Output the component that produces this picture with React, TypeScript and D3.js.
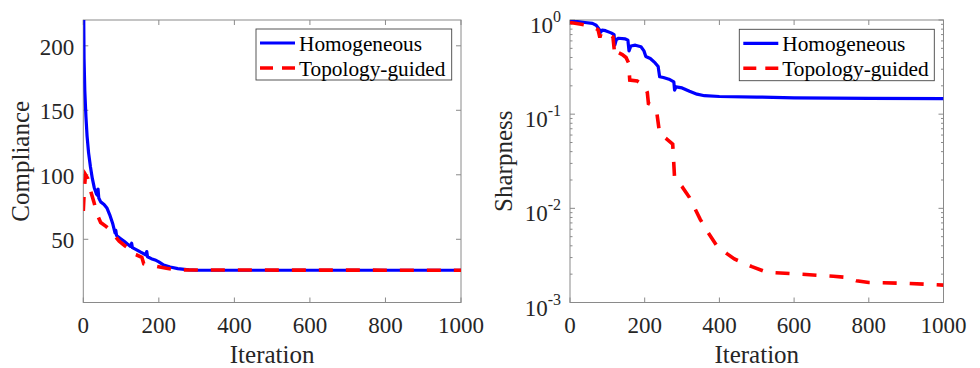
import React, { useEffect, useRef } from 'react'
import * as d3 from 'd3'

const W = 980
const H = 368
const FONT = "'Liberation Serif', 'Times New Roman', serif"

// shared x axis
const iterTicks = [0, 200, 400, 600, 800, 1000]

// left panel: compliance
const compTicks = [50, 100, 150, 200]
const compIterH = [0, 2, 4, 7, 10, 14, 19, 24, 29, 35, 38, 39, 41, 46, 55, 63, 70, 78, 84, 86, 88, 98, 108, 116, 125, 128, 130, 140, 152, 165, 168, 170, 180, 190, 200, 213, 230, 250, 280, 300, 1000]
const compValH = [260, 190, 165, 145, 130, 117, 106, 97, 90, 85, 84, 89, 82, 79, 77, 74, 69, 62, 55, 57, 53, 50.7, 48.5, 46.5, 44.5, 47, 43.5, 42, 40, 38, 40.5, 36.5, 35, 34, 32.5, 30, 28.5, 27.3, 26.3, 26, 26]
const compIterT = [0, 3, 6, 12, 20, 28, 37, 46, 60, 72, 85, 95, 110, 125, 130, 140, 155, 160, 175, 195, 220, 245, 280, 1000]
const compValT = [72, 90, 100, 97, 87, 79, 69, 63, 60, 57, 52, 48.5, 45, 42, 39, 38, 36, 31, 30, 29, 27.5, 26.5, 26.2, 26]

// right panel: sharpness (log)
const sharpTicks = [1e-3, 1e-2, 1e-1, 1]
const sharpIterH = [0, 20, 40, 60, 70, 78, 82, 86, 95, 110, 118, 120, 124, 130, 148, 155, 158, 163, 175, 190, 198, 203, 215, 228, 236, 240, 250, 265, 278, 280, 284, 300, 320, 340, 360, 400, 500, 600, 800, 1000]
const sharpValH = [0.97, 0.96, 0.94, 0.92, 0.88, 0.8, 0.74, 0.78, 0.77, 0.73, 0.7, 0.54, 0.62, 0.64, 0.63, 0.61, 0.47, 0.53, 0.54, 0.52, 0.47, 0.41, 0.39, 0.35, 0.32, 0.25, 0.245, 0.235, 0.22, 0.18, 0.195, 0.19, 0.175, 0.163, 0.157, 0.154, 0.152, 0.149, 0.147, 0.146]
const sharpIterT = [0, 30, 60, 75, 80, 84, 100, 115, 120, 124, 140, 150, 157, 160, 180, 200, 207, 210, 220, 233, 240, 260, 275, 280, 300, 320, 349, 370, 393, 420, 440, 487, 527, 616, 705, 740, 767, 800, 900, 1000]
const sharpValT = [0.94, 0.9, 0.85, 0.79, 0.65, 0.74, 0.72, 0.66, 0.42, 0.46, 0.43, 0.4, 0.35, 0.23, 0.225, 0.2, 0.17, 0.13, 0.125, 0.1, 0.062, 0.054, 0.048, 0.021, 0.017, 0.013, 0.0076, 0.0055, 0.004, 0.0033, 0.0029, 0.0024, 0.0021, 0.002, 0.0019, 0.00185, 0.0017, 0.00163, 0.0016, 0.00153]

const seriesNames = ['Homogeneous', 'Topology-guided']

function drawPanel(svg, o) {
  const { left, right, top, bottom, y, yTicks, yLabel, yLabelX, log, data, legend, id } = o
  const x = d3.scaleLinear().domain([0, 1000]).range([left, right])
  const g = svg.append('g')

  g.append('clipPath').attr('id', id).append('rect')
    .attr('x', left).attr('y', top).attr('width', right - left).attr('height', bottom - top)

  // box
  g.append('rect').attr('x', left).attr('y', top).attr('width', right - left).attr('height', bottom - top)
    .attr('fill', 'none').attr('stroke', '#8a8a8a').attr('stroke-width', 1)

  const tk = 5
  // x ticks top & bottom
  iterTicks.forEach(t => {
    g.append('line').attr('x1', x(t)).attr('x2', x(t)).attr('y1', bottom).attr('y2', bottom - tk).attr('stroke', '#8a8a8a')
    g.append('line').attr('x1', x(t)).attr('x2', x(t)).attr('y1', top).attr('y2', top + tk).attr('stroke', '#8a8a8a')
    g.append('text').attr('x', x(t)).attr('y', bottom + 30).attr('text-anchor', 'middle')
      .attr('font-size', 23).attr('fill', '#262626').text(t)
  })

  // y ticks
  yTicks.forEach(t => {
    g.append('line').attr('x1', left).attr('x2', left + tk).attr('y1', y(t)).attr('y2', y(t)).attr('stroke', '#8a8a8a')
    g.append('line').attr('x1', right).attr('x2', right - tk).attr('y1', y(t)).attr('y2', y(t)).attr('stroke', '#8a8a8a')
    if (log) {
      const e = Math.round(Math.log10(t))
      const tx = g.append('text').attr('x', left - 9).attr('y', y(t) + 13).attr('text-anchor', 'end')
        .attr('font-size', 23).attr('fill', '#262626')
      tx.append('tspan').text('10')
      tx.append('tspan').attr('font-size', 16).attr('dy', -11).text(e)
    } else {
      g.append('text').attr('x', left - 9).attr('y', y(t) + 9).attr('text-anchor', 'end')
        .attr('font-size', 23).attr('fill', '#262626').text(t)
    }
  })

  if (log) {
    for (let d = -3; d < 0; d++) {
      for (let m = 2; m <= 9; m++) {
        const v = m * Math.pow(10, d)
        g.append('line').attr('x1', left).attr('x2', left + 2.5).attr('y1', y(v)).attr('y2', y(v)).attr('stroke', '#8a8a8a')
        g.append('line').attr('x1', right).attr('x2', right - 2.5).attr('y1', y(v)).attr('y2', y(v)).attr('stroke', '#8a8a8a')
      }
    }
  }

  // axis labels
  g.append('text').attr('x', (left + right) / 2).attr('y', 362.5).attr('text-anchor', 'middle')
    .attr('font-size', 25).attr('fill', '#262626').text('Iteration')
  g.append('text').attr('transform', `translate(${yLabelX},${(top + bottom) / 2}) rotate(-90)`)
    .attr('text-anchor', 'middle').attr('font-size', 25).attr('fill', '#262626').text(yLabel)

  // lines
  const line = d3.line().x(d => x(d[0])).y(d => y(d[1]))
  const plot = g.append('g').attr('clip-path', `url(#${id})`)
  plot.append('path').attr('d', line(d3.zip(data[0][0], data[0][1])))
    .attr('fill', 'none').attr('stroke', '#0000ff').attr('stroke-width', 3.2).attr('stroke-linejoin', 'round')
  plot.append('path').attr('d', line(d3.zip(data[1][0], data[1][1])))
    .attr('fill', 'none').attr('stroke', '#ff0000').attr('stroke-width', 3.6).attr('stroke-dasharray', '14 13')

  // legend
  const lg = g.append('g')
  lg.append('rect').attr('x', legend.x).attr('y', legend.y).attr('width', legend.w).attr('height', legend.h)
    .attr('fill', '#fff').attr('stroke', '#444').attr('stroke-width', 0.9)
  seriesNames.forEach((name, i) => {
    const cy = legend.y + 14 + i * 25
    lg.append('line').attr('x1', legend.x + 4).attr('x2', legend.x + 39).attr('y1', cy).attr('y2', cy)
      .attr('stroke', i === 0 ? '#0000ff' : '#ff0000').attr('stroke-width', i === 0 ? 3.2 : 3.6)
      .attr('stroke-dasharray', i === 0 ? null : '13 9')
    lg.append('text').attr('x', legend.x + 43).attr('y', cy + 7.5).attr('font-size', 21.3).attr('fill', '#000').text(name)
  })
}

export default function App() {
  const ref = useRef(null)

  useEffect(() => {
    const svg = d3.select(ref.current)
    svg.selectAll('*').remove()
    svg.attr('font-family', FONT)

    const top = 20
    const bottom = 302.5

    drawPanel(svg, {
      id: 'clipL', left: 83.3, right: 461, top, bottom,
      y: d3.scaleLinear().domain([1, 220]).range([bottom, top]),
      yTicks: compTicks, yLabel: 'Compliance', yLabelX: 29, log: false,
      data: [[compIterH, compValH], [compIterT, compValT]],
      legend: { x: 256, y: 29, w: 195.7, h: 51 },
    })

    drawPanel(svg, {
      id: 'clipR', left: 570, right: 943.5, top, bottom,
      y: d3.scaleLog().domain([1e-3, 1]).range([bottom, top]),
      yTicks: sharpTicks, yLabel: 'Sharpness', yLabelX: 512, log: true,
      data: [[sharpIterH, sharpValH], [sharpIterT, sharpValT]],
      legend: { x: 739.3, y: 29.3, w: 195, h: 51.4 },
    })
  }, [])

  return (
    <svg ref={ref} width={W} height={H} viewBox={`0 0 ${W} ${H}`}
      style={{ position: 'absolute', left: 0, top: 0, background: '#fff' }} />
  )
}
